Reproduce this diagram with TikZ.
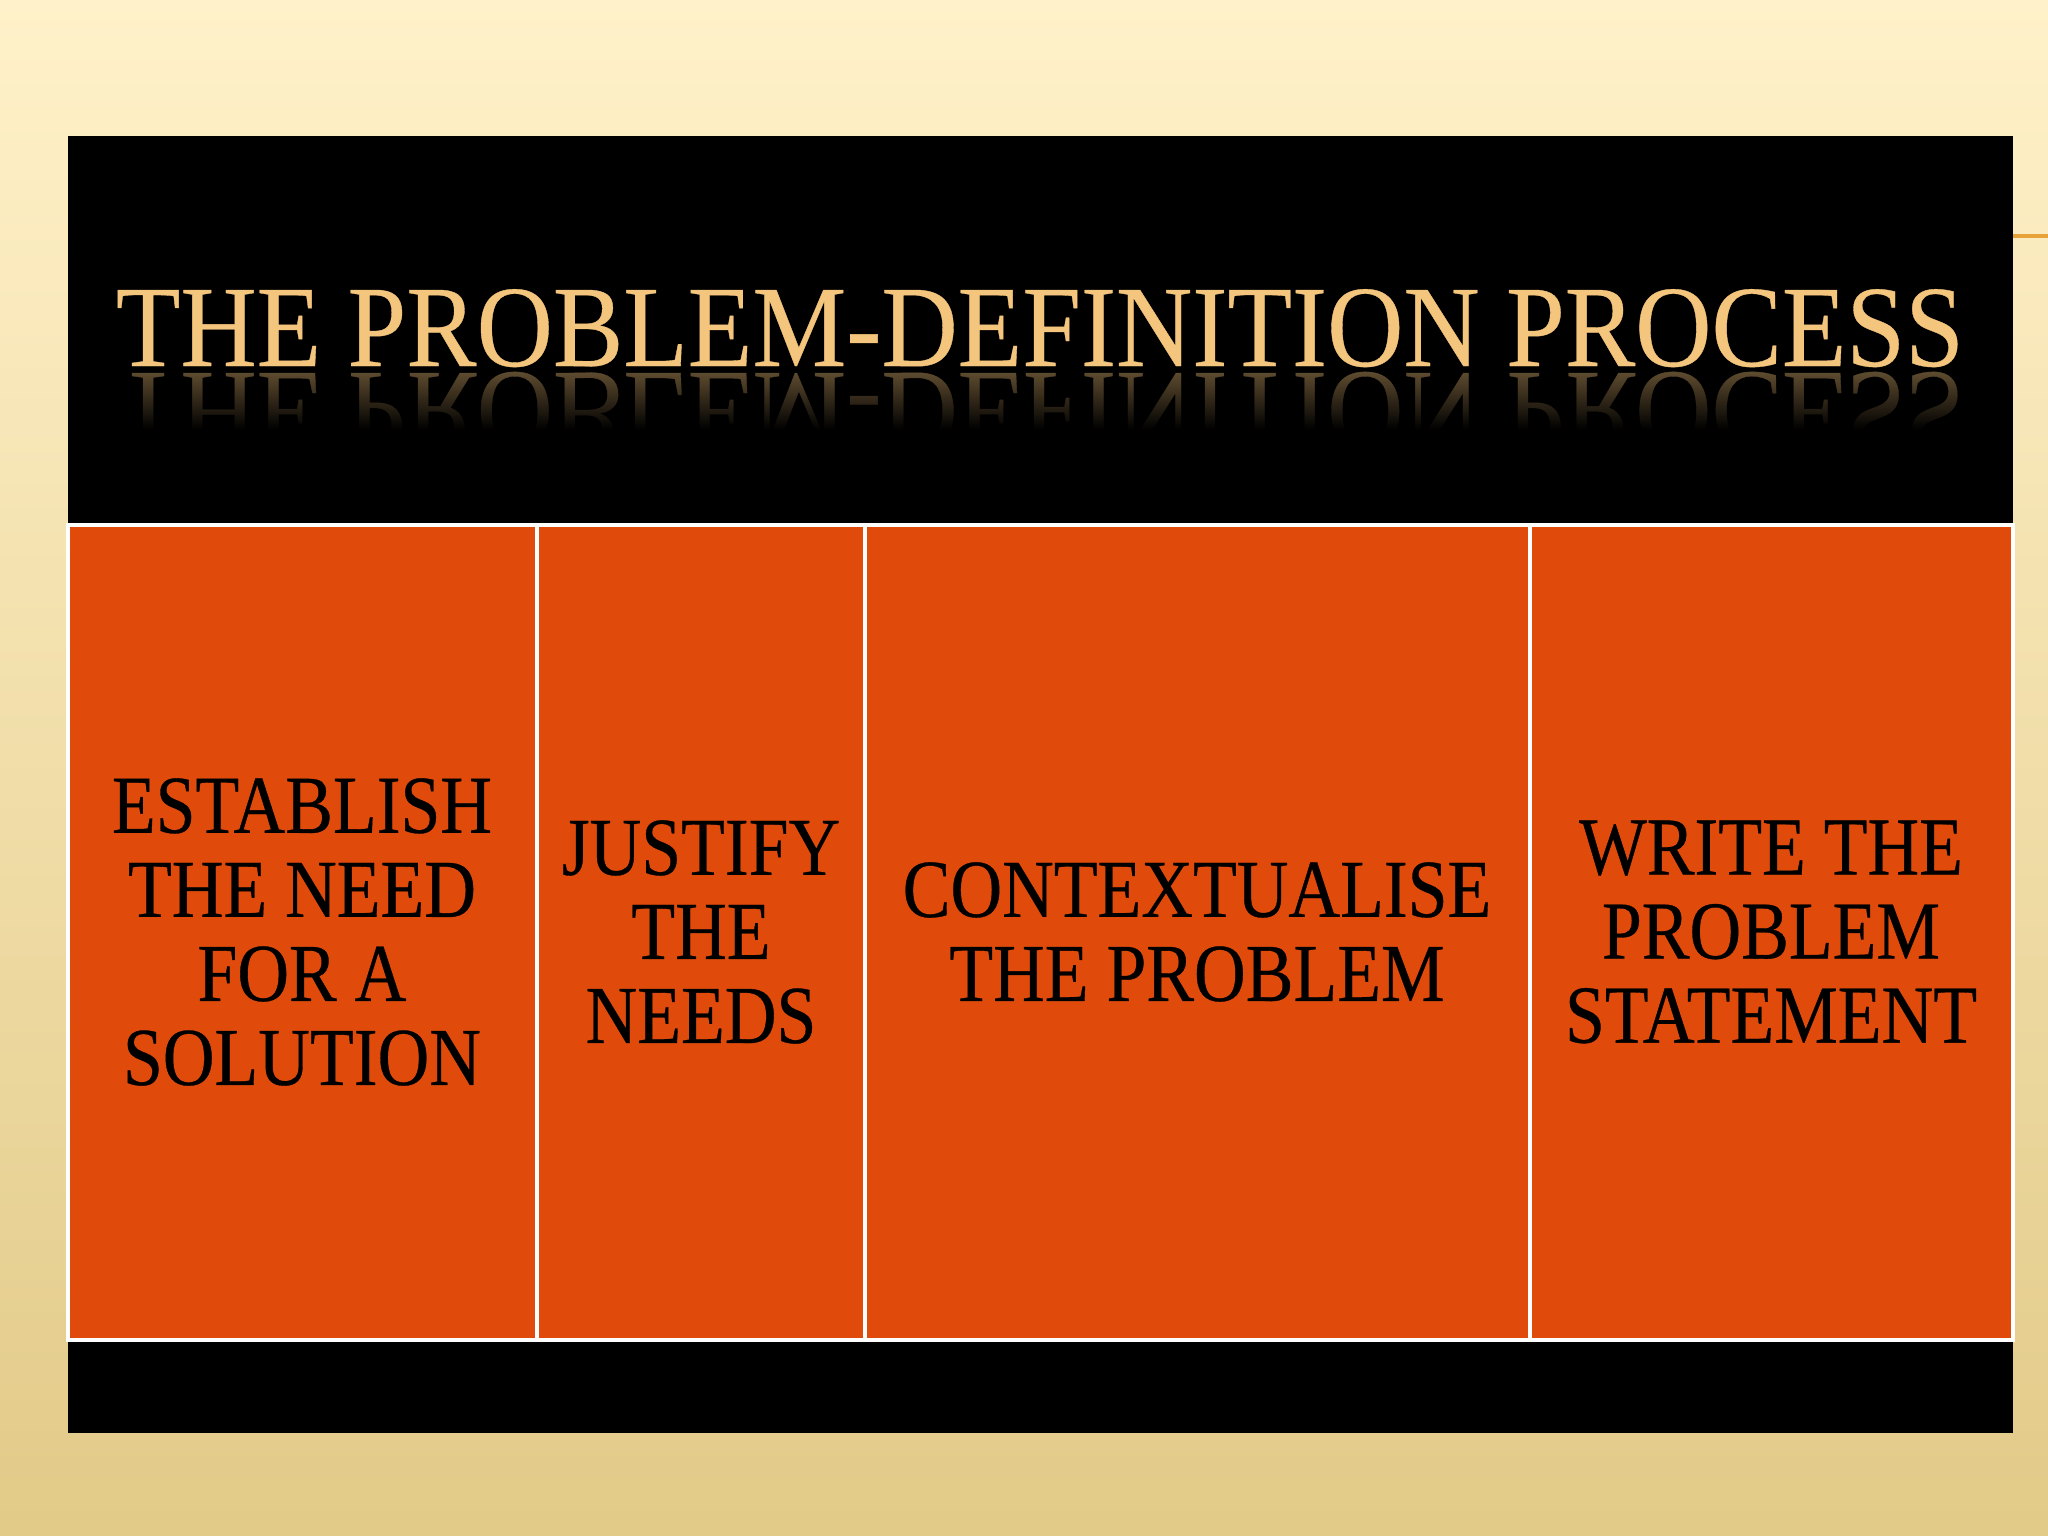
\documentclass[tikz,border=0pt]{standalone}
\usepackage{fontspec}
\setmainfont{Liberation Serif}[FakeStretch=0.87,FakeBold=0.4]
\newfontfamily\titlefont{Liberation Serif}[FakeStretch=0.91,FakeBold=0.3]
\usetikzlibrary{fadings}

\definecolor{cream}{HTML}{FFF1C9}
\definecolor{sand}{HTML}{E2CA88}
\definecolor{burnt}{HTML}{E04B0C}
\definecolor{wheat}{HTML}{F4C57C}
\definecolor{accent}{HTML}{E8A23A}

\tikzfading[name=fadedown, top color=transparent!100, bottom color=transparent!0]

\begin{document}
\begin{tikzpicture}[x=0.01cm,y=-0.01cm,
    cell/.style={draw=white,line width=0.9pt,fill=burnt},
    celltext/.style={text=black,align=center,font=\fontsize{23.4}{23.9}\selectfont},
    heading/.style={text=wheat,anchor=base,font=\titlefont\fontsize{33}{36}\selectfont}]
        \useasboundingbox (0,0) rectangle (2048,1536);
        \shade[top color=cream,middle color=cream!80!sand,bottom color=sand] (0,0) rectangle (2048,1536);
        \fill[black] (68,136) rectangle (2013,1433);
        \draw[accent,line width=1pt] (2013,236) -- (2048,236);
        % title with its reflection
        \node[heading] (title) at (1040,366) {THE PROBLEM-DEFINITION PROCESS};
        \node[heading,text=wheat!38!black,yscale=-1] (mirror) at (1040,373) {THE PROBLEM-DEFINITION PROCESS};
        \fill[black,path fading=fadedown] (90,373) rectangle (1990,430);
        \fill[black] (90,430) rectangle (1990,460);
        % the four steps
        \draw[cell] (68,525) rectangle (537,1340);
        \draw[cell] (537,525) rectangle (865,1340);
        \draw[cell] (865,525) rectangle (1530,1340);
        \draw[cell] (1530,525) rectangle (2013,1340);
        \node[celltext] (need) at (302,932) {ESTABLISH\\THE NEED\\FOR A\\SOLUTION};
        \node[celltext] (justify) at (701,932) {JUSTIFY\\THE\\NEEDS};
        \node[celltext] (context) at (1197,932) {CONTEXTUALISE\\THE PROBLEM};
        \node[celltext] (statement) at (1771,932) {WRITE THE\\PROBLEM\\STATEMENT};
\end{tikzpicture}
\end{document}
